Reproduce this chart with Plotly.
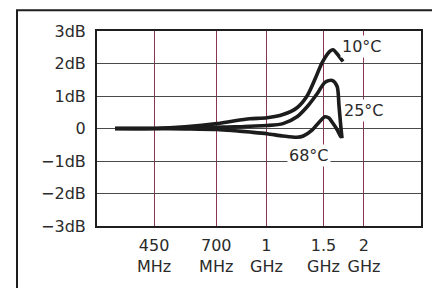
import math
import plotly.graph_objects as go

# Frequencies in MHz, response in dB
freq_10c = [341, 453, 561, 704, 800, 890, 1004, 1125, 1243, 1335, 1413, 1486, 1572, 1606, 1652, 1723]
db_10c = [0.0, 0.0, 0.05, 0.15, 0.24, 0.30, 0.33, 0.43, 0.64, 1.0, 1.52, 2.03, 2.38, 2.42, 2.30, 2.06]

freq_25c = [341, 453, 561, 704, 800, 890, 1004, 1125, 1243, 1344, 1432, 1516, 1594, 1652, 1675, 1699, 1711]
db_25c = [0.0, 0.0, 0.02, 0.04, 0.05, 0.07, 0.09, 0.15, 0.36, 0.70, 1.06, 1.42, 1.48, 1.30, 0.70, 0.0, -0.30]

freq_68c = [341, 453, 561, 704, 800, 890, 1004, 1125, 1243, 1300, 1383, 1450, 1516, 1560, 1594, 1652, 1699]
db_68c = [0.0, 0.0, -0.01, -0.03, -0.07, -0.11, -0.16, -0.23, -0.27, -0.23, -0.05, 0.18, 0.36, 0.32, 0.20, -0.03, -0.27]

x_tickvals = [450, 700, 1000, 1500, 2000]
x_ticktext = ["450<br>MHz", "700<br>MHz", "1<br>GHz", "1.5<br>GHz", "2<br>GHz"]
y_tickvals = [3, 2, 1, 0, -1, -2, -3]
y_ticktext = ["3dB", "2dB", "1dB", "0", "\u22121dB", "\u22122dB", "\u22123dB"]

labels = ["10°C", "25°C", "68°C"]
label_freq = [1973, 2000, 1352]
label_db = [2.52, 0.55, -0.82]

FONT = "DejaVu Sans"
fig = go.Figure()
for f, d in [(freq_10c, db_10c), (freq_25c, db_25c), (freq_68c, db_68c)]:
    fig.add_trace(go.Scatter(x=f, y=d, mode="lines",
                             line=dict(color="#1c1c1c", width=3.6, shape="spline", smoothing=0.8),
                             hoverinfo="skip", showlegend=False))

for t, fx, dy in zip(labels, label_freq, label_db):
    fig.add_annotation(x=math.log10(fx), y=dy, text=t, showarrow=False,
                       bgcolor="white", borderpad=1,
                       font=dict(family=FONT, size=16, color="#2a2a2a"))

# outer frame (extends beyond the picture on right and bottom)
fig.add_shape(type="rect", xref="paper", yref="paper",
              x0=(17 - 97) / 324, x1=(470 - 97) / 324,
              y0=(229 - 310) / 198, y1=(229 - 10) / 198,
              line=dict(color="#1e1e1e", width=2), fillcolor="rgba(0,0,0,0)", layer="below")

# page body has an 8px margin, so the figure is offset by 8px
fig.update_layout(
    width=432, height=280,
    margin=dict(l=89, r=19, t=23, b=59),
    paper_bgcolor="white", plot_bgcolor="white",
    font=dict(family=FONT, size=16, color="#2a2a2a"),
    showlegend=False,
)
fig.update_xaxes(type="log", range=[math.log10(300), math.log10(3000)],
                 tickvals=x_tickvals, ticktext=x_ticktext, ticks="",
                 showgrid=True, gridcolor="#8c3454", gridwidth=1,
                 showline=True, linecolor="#1e1e1e", linewidth=2, mirror=True,
                 zeroline=False, ticklabelstandoff=4)
fig.update_yaxes(range=[-3, 3], tickvals=y_tickvals, ticktext=y_ticktext, ticks="",
                 showgrid=True, gridcolor="#4a4a4a", gridwidth=1,
                 showline=True, linecolor="#1e1e1e", linewidth=2, mirror=True,
                 zeroline=False, ticklabelstandoff=6)

fig.write_html("out.html")
